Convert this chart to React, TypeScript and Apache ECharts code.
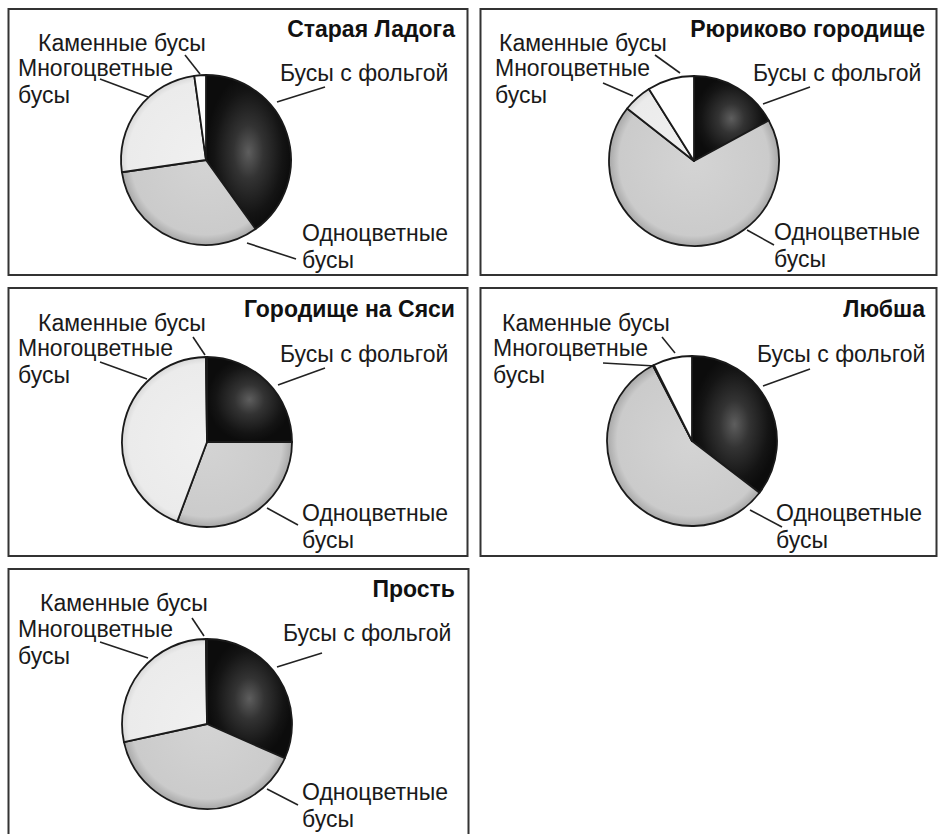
import React, { useEffect, useRef } from "react";
import * as echarts from "echarts";

// ---- data ----
const categories = ["Бусы с фольгой", "Одноцветные бусы", "Многоцветные бусы", "Каменные бусы"];
const labelTexts = ["Бусы с фольгой", "Одноцветные\nбусы", "Многоцветные\nбусы", "Каменные бусы"];
const sites = ["Старая Ладога", "Рюриково городище", "Городище на Сяси", "Любша", "Прость"];
const staraya = [40.1, 32.6, 25.1, 2.2];
const ryurikovo = [17.1, 68.5, 5.5, 8.9];
const syas = [25.0, 30.7, 44.1, 0.2];
const lyubsha = [35.4, 57.0, 0.2, 7.4];
const prost = [31.6, 40.0, 28.2, 0.2];
const siteValues = [staraya, ryurikovo, syas, lyubsha, prost];

// ---- layout (positions / sizes only) ----
type Lbl = { x: number; y: number; line: number[][] };
type Panel = { box: number[]; center: number[]; title: number[]; labels: Lbl[] };
const R = 85;
const panels: Panel[] = [
  {
    box: [8.5, 9, 459, 266], center: [206, 160], title: [455, 29],
    labels: [
      { x: 280, y: 73, line: [[277, 102], [325, 87]] },
      { x: 302, y: 246, line: [[247, 243], [296, 259]] },
      { x: 18, y: 81, line: [[148, 97], [100, 79]] },
      { x: 38, y: 43, line: [[200, 74], [185, 55]] },
    ],
  },
  {
    box: [480.5, 9, 456, 266], center: [694, 161], title: [925, 29],
    labels: [
      { x: 753, y: 73, line: [[763, 104], [810, 87]] },
      { x: 774, y: 245, line: [[747, 230], [774, 245]] },
      { x: 495, y: 81, line: [[633, 96], [603, 83]] },
      { x: 499, y: 43, line: [[680, 73], [655, 55]] },
    ],
  },
  {
    box: [8.5, 288, 459, 268], center: [207, 442], title: [455, 309],
    labels: [
      { x: 280, y: 354, line: [[278, 385], [325, 368]] },
      { x: 302, y: 526, line: [[267, 508], [298, 525]] },
      { x: 18, y: 361, line: [[147, 379], [100, 362]] },
      { x: 38, y: 323, line: [[205, 355], [193, 337]] },
    ],
  },
  {
    box: [480.5, 288, 456, 268], center: [692, 441], title: [925, 309],
    labels: [
      { x: 757, y: 354, line: [[763, 386], [810, 369]] },
      { x: 776, y: 526, line: [[750, 510], [782, 527]] },
      { x: 493, y: 361, line: [[655, 366], [603, 363]] },
      { x: 502, y: 323, line: [[675, 353], [662, 337]] },
    ],
  },
  {
    box: [8.5, 569, 460, 290], center: [207, 724], title: [455, 589],
    labels: [
      { x: 283, y: 633, line: [[277, 667], [322, 653]] },
      { x: 302, y: 805, line: [[267, 789], [298, 805]] },
      { x: 18, y: 642, line: [[148, 658], [100, 642]] },
      { x: 40, y: 603, line: [[204, 636], [192, 618]] },
    ],
  },
];

const FONT = "'Liberation Sans', Arial, Helvetica, sans-serif";

function fills(cx: number, cy: number) {
  return [
    new echarts.graphic.RadialGradient(0.5, 0.5, 0.5, [
      { offset: 0, color: "#5e5e5e" },
      { offset: 0.35, color: "#333333" },
      { offset: 0.8, color: "#141414" },
      { offset: 1, color: "#0c0c0c" },
    ]),
    new echarts.graphic.RadialGradient(cx, cy, R, [
      { offset: 0, color: "#d4d4d4" },
      { offset: 0.88, color: "#cbcbcb" },
      { offset: 1, color: "#a8a8a8" },
    ], true),
    new echarts.graphic.RadialGradient(cx, cy, R, [
      { offset: 0, color: "#f0f0f0" },
      { offset: 0.92, color: "#ebebeb" },
      { offset: 1, color: "#d8d8d8" },
    ], true),
    "#ffffff",
  ];
}

export default function App() {
  const ref = useRef<HTMLDivElement>(null);
  useEffect(() => {
    if (!ref.current) return;
    const chart = echarts.init(ref.current, null, { renderer: "svg" });
    const series = panels.map((p, si) => {
      const f = fills(p.center[0], p.center[1]);
      return {
        type: "pie",
        name: sites[si],
        center: p.center,
        radius: [0, R],
        startAngle: 90,
        clockwise: true,
        avoidLabelOverlap: false,
        emphasis: { disabled: true },
        itemStyle: { borderColor: "#1a1a1a", borderWidth: 1.8 },
        label: {
          show: true,
          position: "outside",
          color: "#1a1a1a",
          fontSize: 23,
          lineHeight: 27,
          fontFamily: FONT,
        },
        labelLine: { show: true, length: 8, length2: 8, lineStyle: { color: "#222", width: 1.6 } },
        labelLayout: (params: any) => {
          const l = p.labels[params.dataIndex];
          return {
            x: l.x,
            y: l.y,
            align: "left",
            verticalAlign: "middle",
            labelLinePoints: [l.line[0], l.line[1], l.line[1]],
          };
        },
        data: siteValues[si].map((v, i) => ({
          name: categories[i],
          value: v,
          itemStyle: { color: f[i] },
          label: { formatter: labelTexts[i] },
        })),
      };
    });
    const graphics: any[] = [];
    panels.forEach((p, si) => {
      graphics.push({
        type: "rect",
        shape: { x: p.box[0], y: p.box[1], width: p.box[2], height: p.box[3] },
        style: { fill: "none", stroke: "#333", lineWidth: 2 },
        silent: true,
      });
      graphics.push({
        type: "text",
        x: p.title[0],
        y: p.title[1],
        style: {
          text: sites[si],
          align: "right",
          verticalAlign: "middle",
          font: `bold 23px ${FONT}`,
          fill: "#111",
        },
        silent: true,
      });
    });
    chart.setOption({
      animation: false,
      backgroundColor: "#ffffff",
      graphic: graphics,
      series,
    } as any);
    return () => chart.dispose();
  }, []);
  return (
    <div
      ref={ref}
      style={{ position: "fixed", left: 0, top: 0, width: 939, height: 834, background: "#fff" }}
    />
  );
}
